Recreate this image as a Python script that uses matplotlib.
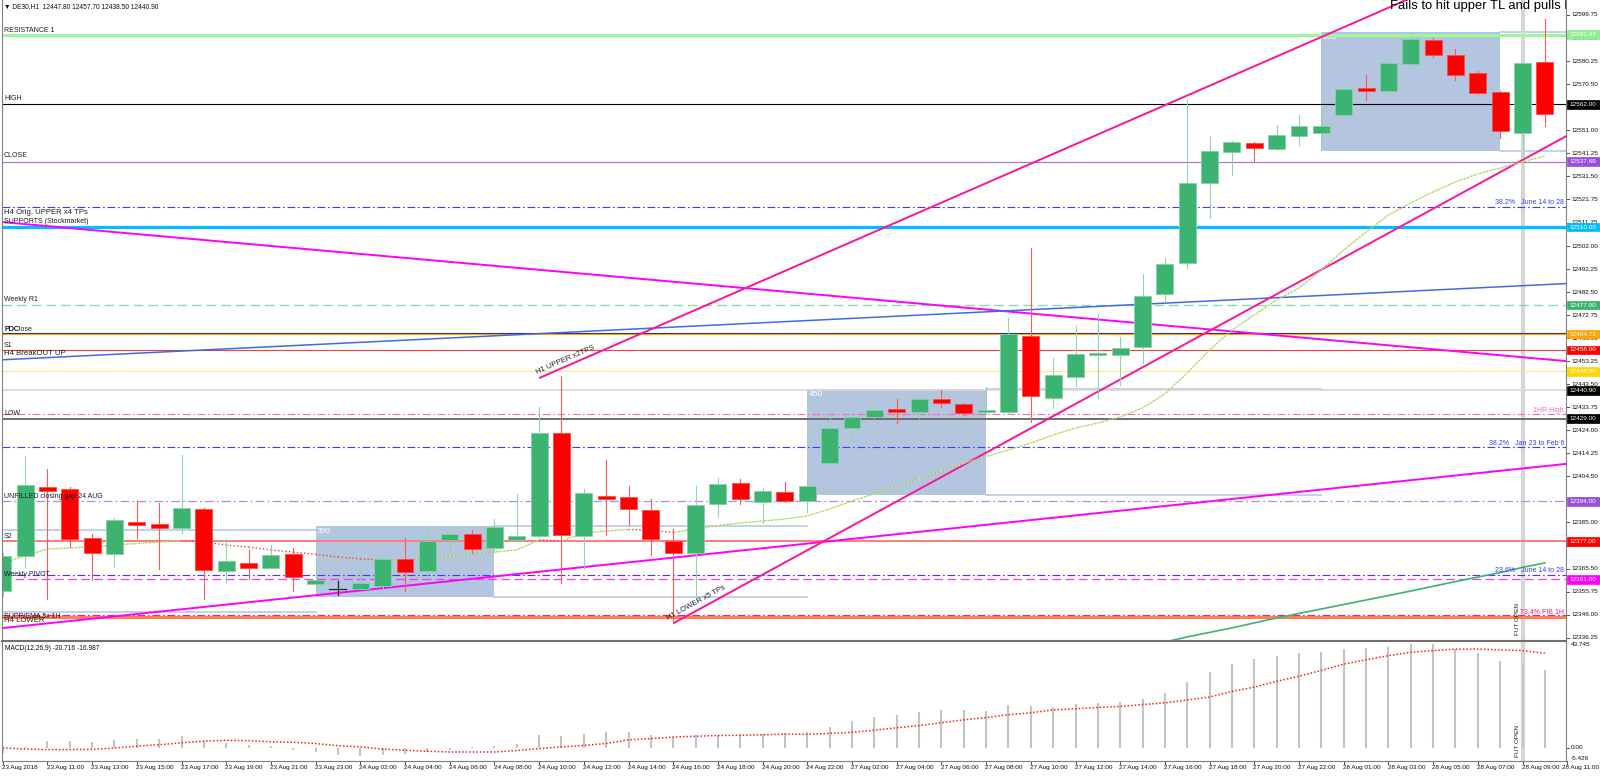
import matplotlib
matplotlib.use("Agg")
import matplotlib.pyplot as plt
import matplotlib.transforms as mtransforms
from matplotlib.patches import Rectangle
from matplotlib.lines import Line2D
import numpy as np

plt.rcParams['font.family'] = ['Liberation Sans', 'DejaVu Sans']

# ---------------- data (DE30, H1) ----------------
opens = [12356.1, 12370.8, 12400.2, 12399.0, 12378.6, 12371.8, 12385.2, 12384.3, 12382.8, 12390.7,
         12364.5, 12367.9, 12365.9, 12371.5, 12358.9, 12356.9, 12356.8, 12358.3, 12369.4, 12364.5,
         12377.5, 12380.0, 12374.1, 12377.5, 12379.3, 12423.0, 12379.3, 12396.2, 12395.7, 12390.3,
         12377.2, 12372.0, 12392.7, 12401.8, 12393.8, 12398.0, 12394.2, 12410.3, 12424.9, 12429.8,
         12432.9, 12431.6, 12437.3, 12435.3, 12431.6, 12431.6, 12464.0, 12437.8, 12446.6, 12455.9,
         12455.9, 12459.1, 12481.7, 12494.9, 12528.8, 12541.9, 12545.5, 12543.2, 12548.7, 12550.0,
         12557.4, 12568.7, 12567.6, 12579.0, 12589.2, 12582.8, 12575.1, 12567.2, 12549.9, 12579.9]
highs = [12372.0, 12413.1, 12407.5, 12400.0, 12380.1, 12386.8, 12394.1, 12393.2, 12413.4, 12391.3,
         12377.9, 12373.4, 12375.5, 12374.3, 12368.4, 12360.3, 12367.0, 12371.2, 12378.3, 12381.8,
         12383.2, 12381.8, 12386.4, 12397.1, 12434.0, 12447.0, 12399.0, 12411.4, 12400.4, 12394.8,
         12382.1, 12400.4, 12404.0, 12403.3, 12399.5, 12402.3, 12403.0, 12429.1, 12431.5, 12435.4,
         12437.1, 12437.5, 12441.1, 12435.7, 12442.5, 12471.7, 12501.0, 12454.5, 12468.3, 12473.2,
         12463.4, 12490.0, 12496.8, 12563.8, 12548.5, 12546.3, 12545.8, 12553.2, 12557.4, 12560.3,
         12569.7, 12574.4, 12580.7, 12590.9, 12590.1, 12585.2, 12576.1, 12567.7, 12580.0, 12598.1]
lows = [12354.0, 12366.0, 12352.6, 12374.8, 12360.7, 12366.2, 12378.6, 12365.3, 12380.7, 12352.6,
        12359.7, 12361.0, 12365.9, 12356.1, 12357.4, 12354.3, 12356.8, 12355.0, 12356.1, 12362.8,
        12372.4, 12372.0, 12372.6, 12377.0, 12379.0, 12359.3, 12365.2, 12379.7, 12383.9, 12371.2,
        12342.4, 12353.6, 12387.5, 12392.7, 12384.7, 12393.8, 12389.6, 12410.0, 12419.9, 12429.1,
        12427.2, 12429.1, 12434.0, 12430.4, 12431.0, 12431.0, 12427.6, 12433.3, 12442.8, 12437.5,
        12443.2, 12452.4, 12478.4, 12492.8, 12513.7, 12532.1, 12538.1, 12542.6, 12544.7, 12542.6,
        12556.5, 12563.8, 12565.9, 12578.6, 12581.9, 12572.3, 12566.3, 12547.7, 12539.1, 12552.8]
closes = [12370.8, 12400.9, 12398.5, 12378.1, 12372.1, 12385.9, 12383.9, 12382.8, 12391.0, 12364.8,
          12368.7, 12365.6, 12371.2, 12361.8, 12360.6, 12356.9, 12359.3, 12369.4, 12364.2, 12377.2,
          12380.0, 12373.7, 12383.0, 12379.2, 12422.7, 12379.6, 12397.6, 12395.1, 12390.6, 12378.0,
          12372.2, 12392.4, 12401.2, 12394.8, 12398.5, 12394.1, 12400.6, 12425.1, 12429.8, 12432.6,
          12431.9, 12437.3, 12435.4, 12431.2, 12432.7, 12464.6, 12438.5, 12447.5, 12456.3, 12456.5,
          12458.8, 12480.8, 12494.3, 12528.5, 12542.2, 12545.9, 12543.6, 12549.0, 12552.8, 12552.7,
          12568.3, 12567.7, 12579.6, 12589.5, 12582.8, 12574.4, 12566.6, 12550.8, 12579.3, 12558.0]

ema_vals = [12367.9, 12370.8, 12373.8, 12374.2, 12374.8, 12375.5, 12376.1, 12376.7, 12377.3, 12376.7,
            12375.5, 12374.6, 12373.4, 12372.5, 12371.5, 12370.4, 12369.6, 12369.1, 12369.1, 12369.8,
            12370.8, 12371.7, 12372.5, 12373.4, 12377.6, 12377.2, 12380.6, 12381.4, 12382.0, 12381.8,
            12380.8, 12382.3, 12383.7, 12384.8, 12385.6, 12386.5, 12387.8, 12390.7, 12394.1, 12397.1,
            12400.4, 12403.4, 12406.8, 12410.0, 12412.9, 12415.7, 12418.6, 12422.0, 12425.0, 12427.1,
            12429.6, 12433.5, 12439.4, 12448.3, 12458.0, 12466.5, 12472.8, 12479.2, 12484.2, 12491.9,
            12500.3, 12507.9, 12515.1, 12520.2, 12524.9, 12529.1, 12532.5, 12535.0, 12537.6, 12540.1]

sma_idx = list(range(52, 70))
sma_vals = [12334.4, 12336.6, 12338.5, 12340.4, 12342.5, 12344.6, 12346.5, 12348.4, 12350.3,
            12352.2, 12354.1, 12356.0, 12358.0, 12360.0, 12361.9, 12363.8, 12366.0, 12367.9]

macd_hist = [-2.0, 0.4, 2.8, 2.8, 2.5, 3.1, 3.8, 3.8, 4.7, 3.0,
             2.1, 1.0, 0.7, -0.7, -1.7, -2.8, -3.5, -2.8, -2.5, -1.7,
             -0.7, 0.3, 0.7, 1.4, 5.2, 5.0, 5.8, 6.4, 6.5, 5.2,
             4.4, 5.2, 5.4, 5.7, 5.8, 6.1, 6.4, 8.8, 10.9, 12.6,
             13.7, 15.0, 15.5, 15.5, 15.2, 17.6, 17.4, 16.8, 18.2, 18.5,
             18.8, 20.3, 22.6, 27.1, 31.2, 34.6, 36.6, 38.0, 39.1, 39.5,
             40.7, 41.2, 41.8, 42.9, 42.8, 40.7, 39.1, 35.7, 34.9, 32.2]
macd_signal = [0.0, -0.5, -0.7, -0.7, -0.6, -0.1, 0.7, 1.3, 2.1, 2.8,
               3.1, 3.0, 2.5, 2.3, 1.8, 0.9, 0.4, -0.5, -1.0, -1.4,
               -1.7, -1.7, -1.7, -1.1, -0.3, 0.4, 1.0, 1.8, 3.3, 3.8,
               4.5, 4.8, 5.1, 5.2, 5.4, 5.7, 5.6, 6.0, 6.4, 7.3,
               8.3, 9.2, 10.4, 11.6, 12.5, 13.7, 14.5, 15.7, 16.2, 16.7,
               17.1, 17.9, 18.6, 19.8, 21.0, 23.3, 25.1, 27.5, 29.6, 32.0,
               34.6, 36.4, 38.1, 39.5, 40.2, 40.8, 40.8, 40.5, 40.2, 39.1]
macd_max, macd_min = 43.745, -5.426

xlabel_idx = list(range(0, 72, 2))
xlabel_text = ["23 Aug 2018", "23 Aug 11:00", "23 Aug 13:00", "23 Aug 15:00", "23 Aug 17:00",
               "23 Aug 19:00", "23 Aug 21:00", "23 Aug 23:00", "24 Aug 02:00", "24 Aug 04:00",
               "24 Aug 06:00", "24 Aug 08:00", "24 Aug 10:00", "24 Aug 12:00", "24 Aug 14:00",
               "24 Aug 16:00", "24 Aug 18:00", "24 Aug 20:00", "24 Aug 22:00", "27 Aug 02:00",
               "27 Aug 04:00", "27 Aug 06:00", "27 Aug 08:00", "27 Aug 10:00", "27 Aug 12:00",
               "27 Aug 14:00", "27 Aug 16:00", "27 Aug 18:00", "27 Aug 20:00", "27 Aug 22:00",
               "28 Aug 01:00", "28 Aug 03:00", "28 Aug 05:00", "28 Aug 07:00", "28 Aug 09:00",
               "28 Aug 11:00"]

price_ticks = [12336.25, 12346.00, 12355.75, 12365.50, 12375.25, 12385.00, 12394.75, 12404.50,
               12414.25, 12424.00, 12433.75, 12443.50, 12453.25, 12463.00, 12472.75, 12482.50,
               12492.25, 12502.00, 12511.75, 12521.75, 12531.50, 12541.25, 12551.00, 12560.75,
               12570.50, 12580.25, 12590.00, 12599.75]

# horizontal levels
level_values = [12591.47, 12562.00, 12537.69, 12518.6, 12510.00, 12477.00, 12465.1, 12464.73,
                12458.00, 12448.90, 12440.90, 12430.9, 12429.00, 12416.8, 12394.00, 12377.00,
                12362.8, 12361.00, 12344.8, 12345.8]
level_colors = ['#98FB98', '#000000', '#A66CE0', '#3B3BFF', '#00BFFF', '#8ED9B2', '#2B2B80', '#FFA500',
                '#F04040', '#FFE680', '#D8D8D8', '#FF69B4', '#6E6E6E', '#3B3BFF', '#B08CEB', '#FF7B7B',
                '#3B3BFF', '#FF33FF', '#FF7F50', '#FF1493']
level_widths = [2.2, 0.8, 0.8, 0.8, 2.3, 1.0, 0.8, 0.8, 0.8, 0.8, 1.2, 0.8, 1.4, 0.8, 0.9, 1.4,
                0.8, 0.9, 2.2, 0.8]
level_styles = ['solid', 'solid', 'solid', 'dashdot', 'solid', 'dashed', 'solid', 'solid',
                'solid', 'solid', 'solid', 'dashdot', 'solid', 'dashdot', 'dashdot', 'solid',
                'dashdot', 'dashed', 'solid', 'dashdot']

box_values = [12591.47, 12562.00, 12537.69, 12510.00, 12477.00, 12464.73, 12458.00, 12448.90,
              12440.90, 12429.00, 12394.00, 12377.00, 12361.00]
box_colors = ['#90EE90', '#000000', '#9A4FDC', '#00BFFF', '#3CB371', '#FFA500', '#FF0000', '#FFD700',
              '#000000', '#000000', '#9A4FDC', '#FF0000', '#FF00FF']

left_text = ["RESISTANCE 1", "HIGH", "CLOSE", "H4 Orig. UPPER x4 TPs", "SUPPORTS (Stockmarket)",
             "Weekly R1", "PDClose", "PDC", "S1", "H4 BreakOUT UP", "LOW",
             "UNFILLED closing gap 24 AUG", "S2", "Weekly PIVOT", "SUPP/EMA 5x 1H", "H4 LOWER"]
left_y = [12593.4, 12564.6, 12540.1, 12516.0, 12512.2, 12479.2, 12466.8, 12466.8, 12460.1,
          12456.7, 12431.2, 12395.9, 12379.0, 12363.1, 12345.4, 12343.7]
left_size = [5, 5, 5, 5.6, 5, 5, 5, 5, 5, 5.6, 5, 5, 5, 5, 5, 5.6]

fib_text = ["38.2%   June 14 to 28", "38.2%   Jan 23 to Feb 6", "23.6%   June 14 to 28",
            "1HR High", "73.4% FIB 1H"]
fib_y = [12520.6, 12418.5, 12364.5, 12432.3, 12346.9]
fib_colors = ['#3B3BFF', '#3B3BFF', '#3B3BFF', '#FF69B4', '#FF1493']

# boxes (supply/demand zones)
rect_start = [14, 36, 59]
rect_end = [22, 44, 67]
rect_top = [12383.5, 12441.5, 12592.6]
rect_bottom = [12353.5, 12396.6, 12542.2]
rect_label = ["390", "450", "530"]
ext_end = [36, 59, 70]
prev_zone = [12381.8, 12347.1]

# trend lines: (x0, y0, x1, y1)
tl_desc_magenta = (-0.12, 12512.2, 69.95, 12453.3)
tl_asc_magenta = (-0.12, 12340.2, 69.95, 12409.8)
tl_blue = (-0.12, 12453.8, 69.95, 12486.1)
tl_upper_h1 = (24.0, 12446.1, 63.5, 12609.0)
tl_lower_h1 = (30.0, 12342.3, 70.5, 12551.3)
fut_open_idx = 68

# ---------------- figure layout ----------------
W, H = 1600, 776
fig = plt.figure(figsize=(W / 100, H / 100), dpi=100)
fig.patch.set_facecolor('white')
ID = mtransforms.IdentityTransform()


def frect(x0, y0, x1, y1):
    return [x0 / W, 1 - y1 / H, (x1 - x0) / W, (y1 - y0) / H]


ax = fig.add_axes(frect(2, 0, 1566, 640))
axm = fig.add_axes(frect(2, 642, 1566, 761))
for a in (ax, axm):
    a.set_axis_off()

n = len(opens)
idx = np.arange(n)
BAR_PX = 22.35
X0_PX = 2.7
xlim = ((2 - X0_PX) / BAR_PX, (1566 - X0_PX) / BAR_PX)
PX_PER_PT = (637.7 - 15.0) / (12599.75 - 12336.25)
y_top = 12599.75 + 15.0 / PX_PER_PT
y_bot = 12599.75 - (640 - 15.0) / PX_PER_PT
ax.set_xlim(*xlim)
ax.set_ylim(y_bot, y_top)
axm.set_xlim(*xlim)
axm.set_ylim(macd_min, macd_max)

tx_main = mtransforms.blended_transform_factory(ID, ax.transData)
tx_macd = mtransforms.blended_transform_factory(ID, axm.transData)

DASHDOT = (0, (7, 2.5, 1.5, 2.5))
DASHED = (0, (7, 3.5))
style_map = {'solid': '-', 'dashdot': DASHDOT, 'dashed': DASHED}

# zones
for s, e, t, b, lab, ee in zip(rect_start, rect_end, rect_top, rect_bottom, rect_label, ext_end):
    ax.add_patch(Rectangle((s, b), e - s, t - b, facecolor='#B4C5DF', edgecolor='none', zorder=1))
    ax.plot([e, ee], [t, t], color='#B4C5DF', lw=1.1, zorder=1.2)
    ax.plot([e, ee], [b, b], color='#B4C5DF', lw=1.1, zorder=1.2)
    ax.annotate(lab, xy=(s, t), xytext=(1, -1.5), textcoords='offset points', color='white',
                fontsize=6, ha='left', va='top', zorder=1.3)
for v in prev_zone:
    ax.plot([xlim[0], rect_start[0]], [v, v], color='#B4C5DF', lw=1.1, zorder=1.2)

# FUT OPEN vertical
ax.axvline(fut_open_idx, color='#D6D6D6', lw=3, zorder=1.5)
axm.axvline(fut_open_idx, color='#D6D6D6', lw=3, zorder=0.5)

# horizontal levels
for v, c, w, s in zip(level_values, level_colors, level_widths, level_styles):
    ax.axhline(v, color=c, lw=w, ls=style_map[s], zorder=2)

# trend lines
for (x0, y0, x1, y1), c, w in [(tl_desc_magenta, '#FF00FF', 1.4), (tl_asc_magenta, '#FF00FF', 1.4),
                               (tl_blue, '#4169E1', 1.1), (tl_upper_h1, '#FF1493', 1.4),
                               (tl_lower_h1, '#FF1493', 1.4)]:
    ax.plot([x0, x1], [y0, y1], color=c, lw=w, zorder=3, solid_capstyle='butt')

# long SMA
ax.plot(sma_idx, sma_vals, color='#3CB371', lw=1.2, zorder=3)

# dotted EMA, green/yellow rising, red falling
for i in range(n - 1):
    xs, ys = [i, i + 1], [ema_vals[i], ema_vals[i + 1]]
    if ema_vals[i + 1] >= ema_vals[i]:
        ax.plot(xs, ys, color='#F2E04A', lw=1.0, ls=(0, (1, 1.6)), zorder=3.2)
        ax.plot(xs, ys, color='#79CF86', lw=1.0, ls=(1.3, (1, 1.6)), zorder=3.2)
    else:
        ax.plot(xs, ys, color='#FF3A3A', lw=1.0, ls=(0, (1, 1.6)), zorder=3.2)

# candles
bw = 0.76
for i in range(n):
    o, h, l, c = opens[i], highs[i], lows[i], closes[i]
    if c > o:
        body, wick, edge = '#3CB371', '#8FD6AC', '#86D2A6'
    elif c < o:
        body, wick, edge = '#FF0000', '#FF5A5A', '#FF4A4A'
    else:
        ax.plot([i, i], [l, h], color='#202020', lw=0.9, zorder=4)
        ax.plot([i - bw / 2, i + bw / 2], [o, o], color='#202020', lw=0.9, zorder=4)
        continue
    ax.plot([i, i], [l, h], color=wick, lw=0.8, zorder=4)
    bot = min(o, c)
    hgt = max(abs(c - o), 0.8)
    ax.add_patch(Rectangle((i - bw / 2, bot), bw, hgt, facecolor=body, edgecolor=edge,
                           lw=0.6, zorder=4.2))

# trend line labels (rotated along lines)
def line_angle(tl):
    p0 = ax.transData.transform((tl[0], tl[1]))
    p1 = ax.transData.transform((tl[2], tl[3]))
    return np.degrees(np.arctan2(p1[1] - p0[1], p1[0] - p0[0]))


ax.annotate("H1 UPPER x2TPS", xy=(tl_upper_h1[0], tl_upper_h1[1]), xytext=(-1, 1.5),
            textcoords='offset points', rotation=line_angle(tl_upper_h1), rotation_mode='anchor',
            ha='left', va='bottom', fontsize=5.5, color='#202020', zorder=5)
ax.annotate("H1 LOWER x5 TPs", xy=(tl_lower_h1[0], tl_lower_h1[1]), xytext=(-3, 1.0),
            textcoords='offset points', rotation=line_angle(tl_lower_h1), rotation_mode='anchor',
            ha='left', va='bottom', fontsize=5.5, color='#202020', zorder=5)

# left labels
for t, y, fs in zip(left_text, left_y, left_size):
    ax.text(4, y, t, transform=tx_main, fontsize=fs, color='#1E1E1E', ha='left', va='center',
            zorder=5, clip_on=False)

# fib labels on right
for t, y, c in zip(fib_text, fib_y, fib_colors):
    ax.text(1564, y, t, transform=tx_main, fontsize=5, color=c, ha='right', va='center', zorder=5)

# FUT OPEN texts
ax.annotate("FUT OPEN", xy=(fut_open_idx, 0.008), xycoords=('data', 'axes fraction'),
            xytext=(-3.8, 0), textcoords='offset points', rotation=90, fontsize=4.6,
            ha='center', va='bottom', color='#202020', zorder=5)
axm.annotate("FUT OPEN", xy=(fut_open_idx, 0.034), xycoords=('data', 'axes fraction'),
             xytext=(-3.8, 0), textcoords='offset points', rotation=90, fontsize=4.6,
             ha='center', va='bottom', color='#202020', zorder=5)

# right axis ticks and labels (main)
for v in price_ticks:
    ax.add_line(Line2D([1566, 1569], [v, v], transform=tx_main, color='#505050', lw=0.7,
                       clip_on=False))
    ax.text(1571, v, f"{v:.2f}", transform=tx_main, fontsize=4.6, color='#101010',
            ha='left', va='center', clip_on=False)

# price boxes
hh = 4.3 / PX_PER_PT
for v, c in zip(box_values, box_colors):
    ax.add_patch(Rectangle((1567, v - hh), 33, 2 * hh, transform=tx_main, facecolor=c,
                           edgecolor=c, lw=0.5, clip_on=False, zorder=6))
    ax.text(1569.5, v, f"{v:.2f}", transform=tx_main, fontsize=4.6, color='white',
            ha='left', va='center', clip_on=False, zorder=7)

# MACD panel
axm.vlines(idx, 0, macd_hist, colors='#C4C4C4', lw=1.5, zorder=1)
axm.plot(idx, macd_signal, color='#FF2020', lw=1.1, ls=(0, (1, 1.3)), zorder=2)
axm.text(1571, macd_max, f"{macd_max:.3f}", transform=tx_macd, fontsize=4.6, ha='left',
         va='top', clip_on=False, color='#101010')
axm.text(1571, 0, "0.00", transform=tx_macd, fontsize=4.6, ha='left', va='center',
         clip_on=False, color='#101010')
axm.text(1571, macd_min, f"{macd_min:.3f}", transform=tx_macd, fontsize=4.6, ha='left',
         va='bottom', clip_on=False, color='#101010')
axm.add_line(Line2D([1566, 1569], [0, 0], transform=tx_macd, color='#505050', lw=0.7,
                    clip_on=False))

# x axis labels
tx_x = mtransforms.blended_transform_factory(axm.transData, ID)
last = len(xlabel_idx) - 1
for k, (i, t) in enumerate(zip(xlabel_idx, xlabel_text)):
    if k == last:
        fig.text(1599, H - 767, t, transform=ID, fontsize=4.6, color='#101010',
                 ha='right', va='center')
    else:
        axm.text(i - 0.04, H - 767, t, transform=tx_x, fontsize=4.6, color='#101010',
                 ha='left', va='center', clip_on=False)
    axm.add_line(Line2D([i, i], [H - 761, H - 764], transform=tx_x, color='#505050', lw=0.7,
                        clip_on=False))

# frame lines
def fline(xs, ys, c='#808080', w=0.8):
    fig.add_artist(Line2D(xs, [H - y for y in ys], transform=ID, color=c, lw=w))


fline([2, 2], [0, 761])
fline([1566, 1566], [0, 761])
fline([2, 1566], [640.5, 640.5], c='#707070', w=1.5)
fline([2, 1566], [761, 761])

# header texts
fig.text(4, H - 7, "\u25bc DE30,H1  12447.80 12457.70 12438.50 12440.90", transform=ID,
         fontsize=4.8, color='#101010', ha='left', va='center')
fig.text(5, H - 648, "MACD(12,26,9) -20.716 -16.987", transform=ID, fontsize=4.8,
         color='#101010', ha='left', va='center')
ax.text(1390, y_top - 8.5 / PX_PER_PT, "Fails to hit upper TL and pulls back", fontsize=9.4,
        color='#000000', ha='left', va='baseline', clip_on=True, zorder=6,
        transform=tx_main)

fig.savefig("out.png", dpi=100, facecolor='white')
